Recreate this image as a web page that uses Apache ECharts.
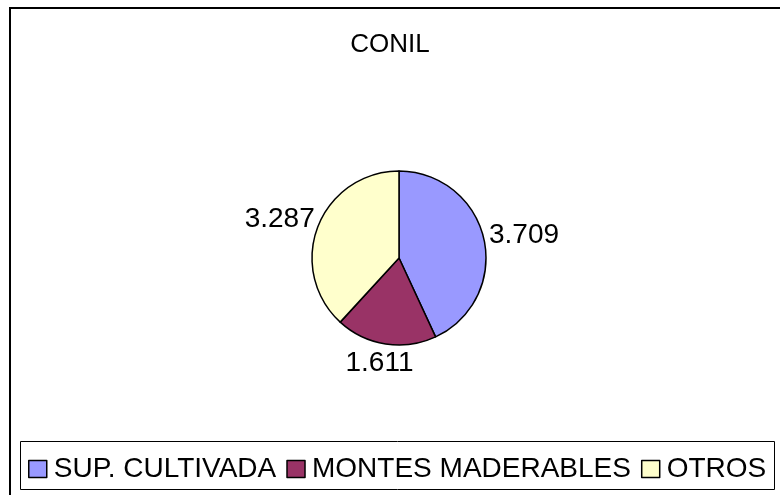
<!DOCTYPE html>
<html>
<head>
<meta charset="utf-8">
<script src="https://cdn.jsdelivr.net/npm/echarts@6/dist/echarts.min.js"></script>
<style>html,body{margin:0;padding:0;background:#fff;}#c{width:780px;height:495px;}</style>
</head>
<body>
<div id="c"></div>
<script>
const titleText = 'CONIL';
const categories = ['SUP. CULTIVADA', 'MONTES MADERABLES', 'OTROS'];
const values = [3709, 1611, 3287];
const colors = ['#9999FF', '#993366', '#FFFFCC'];

function fmt(v) {
  const s = String(Math.round(v));
  return s.replace(/\B(?=(\d{3})+(?!\d))/g, '.');
}

const FONT = 'Arial, "Liberation Sans", sans-serif';
const LABEL_GAP = 6;
const chart = echarts.init(document.getElementById('c'), null, {renderer: 'canvas'});

// Excel-like "outside end" placement: label box pushed outward along the slice's mid angle
function placeLabel(params) {
  const data = chart.getModel().getSeriesByIndex(0).getData();
  const lay = data.getItemLayout(params.dataIndex);
  const mid = (lay.startAngle + lay.endAngle) / 2;
  const ux = Math.cos(mid), uy = Math.sin(mid);
  const w = params.labelRect.width, h = params.labelRect.height;
  const rr = lay.r + LABEL_GAP;
  return {
    x: lay.cx + rr * ux + ux * w / 2,
    y: lay.cy + rr * uy + uy * h / 2,
    align: 'center',
    verticalAlign: 'middle'
  };
}

chart.setOption({
  animation: false,
  backgroundColor: '#fff',
  title: {
    text: titleText, left: 'center', top: 27,
    textStyle: {fontFamily: FONT, fontSize: 26, fontWeight: 'normal', color: '#000'}
  },
  graphic: [
    {type: 'rect', shape: {x: 10, y: 8, width: 800, height: 520}, style: {fill: 'none', stroke: '#000', lineWidth: 2}, z: 100},
    {type: 'rect', shape: {x: 20.5, y: 441.5, width: 754, height: 48}, style: {fill: 'none', stroke: '#000', lineWidth: 1}, z: 100}
  ],
  legend: {
    data: categories,
    left: 23, top: 450,
    orient: 'horizontal',
    icon: 'rect',
    itemWidth: 18, itemHeight: 17, itemGap: 10,
    textStyle: {fontFamily: FONT, fontSize: 28, color: '#000', padding: [0, 0, 0, 2]},
    itemStyle: {borderColor: '#000', borderWidth: 1.5}
  },
  series: [{
    type: 'pie',
    center: [399, 258],
    radius: 87,
    startAngle: 90,
    clockwise: true,
    data: categories.map((n, i) => ({name: n, value: values[i], itemStyle: {color: colors[i]}})),
    itemStyle: {borderColor: '#000', borderWidth: 1.5},
    label: {
      show: true, position: 'outside', formatter: p => fmt(p.value),
      fontFamily: FONT, fontSize: 28, color: '#000', alignTo: 'none'
    },
    labelLine: {show: false, length: 6, length2: 2},
    labelLayout: placeLabel,
    emphasis: {disabled: true}
  }]
});
</script>
</body>
</html>
